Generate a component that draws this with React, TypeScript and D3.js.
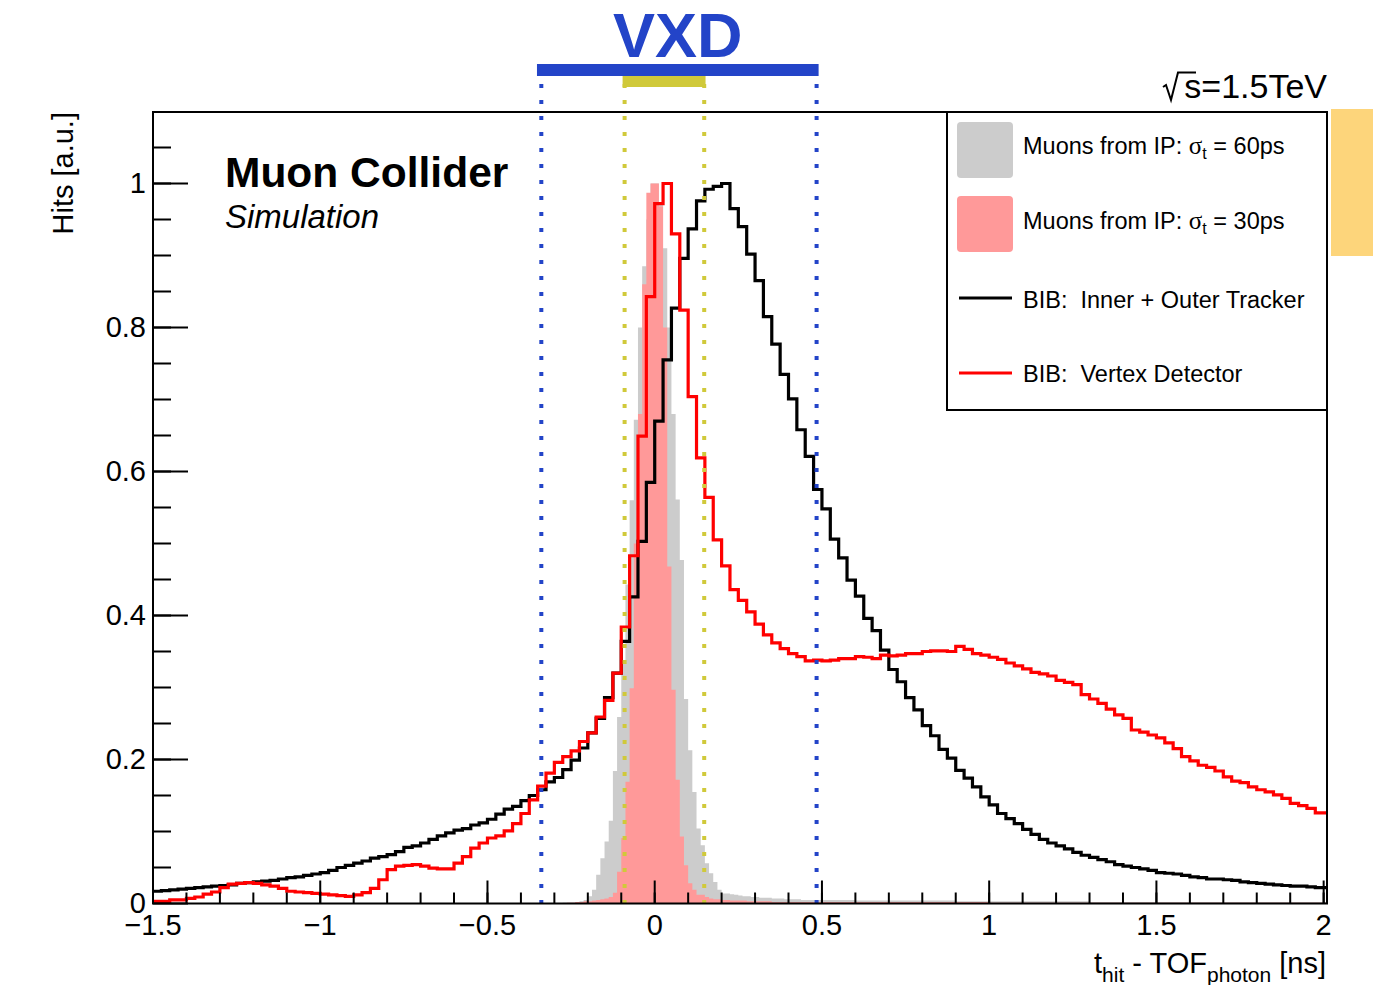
import React from 'react';
import * as d3 from 'd3';

const W = 1373;
const H = 985;

// ---- axis set-up (values) ----
const X_DOMAIN: [number, number] = [-1.5, 2.01];
const Y_DOMAIN: [number, number] = [0, 1.1];
const xMajorTicks = [-1.5, -1, -0.5, 0, 0.5, 1, 1.5, 2];
const xTickLabels = ['\u22121.5', '\u22121', '\u22120.5', '0', '0.5', '1', '1.5', '2'];
const yMajorTicks = [0, 0.2, 0.4, 0.6, 0.8, 1];
const yTickLabels = ['0', '0.2', '0.4', '0.6', '0.8', '1'];

// ---- BIB histograms: 0.025 ns bins starting at -1.5 ns ----
const BIB_START = -1.5;
const BIB_WIDTH = 0.025;
const bibTracker = [
  0.017, 0.018, 0.019, 0.020, 0.021, 0.022, 0.023, 0.024, 0.025, 0.026,
  0.028, 0.029, 0.030, 0.031, 0.032, 0.034, 0.036, 0.037, 0.039, 0.041,
  0.043, 0.046, 0.050, 0.053, 0.056, 0.059, 0.063, 0.065, 0.068, 0.072,
  0.078, 0.080, 0.084, 0.089, 0.094, 0.098, 0.102, 0.104, 0.109, 0.112,
  0.117, 0.124, 0.131, 0.135, 0.143, 0.150, 0.158, 0.169, 0.175, 0.186,
  0.199, 0.216, 0.237, 0.257, 0.286, 0.320, 0.364, 0.426, 0.503, 0.585,
  0.670, 0.755, 0.827, 0.896, 0.937, 0.976, 0.992, 0.996, 1.000, 0.965,
  0.940, 0.902, 0.865, 0.815, 0.777, 0.735, 0.701, 0.658, 0.621, 0.575,
  0.548, 0.506, 0.480, 0.449, 0.427, 0.396, 0.379, 0.352, 0.325, 0.308,
  0.286, 0.269, 0.247, 0.233, 0.214, 0.202, 0.185, 0.174, 0.162, 0.148,
  0.137, 0.125, 0.118, 0.111, 0.103, 0.096, 0.089, 0.084, 0.080, 0.076,
  0.071, 0.067, 0.064, 0.061, 0.058, 0.054, 0.052, 0.050, 0.048, 0.046,
  0.043, 0.042, 0.041, 0.039, 0.037, 0.036, 0.034, 0.034, 0.033, 0.032,
  0.030, 0.029, 0.028, 0.027, 0.026, 0.025, 0.024, 0.024, 0.023, 0.022,
];
const bibVertex = [
  0.003, 0.003, 0.005, 0.005, 0.007, 0.009, 0.013, 0.016, 0.022, 0.027,
  0.028, 0.029, 0.028, 0.026, 0.024, 0.021, 0.017, 0.016, 0.015, 0.014,
  0.013, 0.012, 0.011, 0.010, 0.012, 0.015, 0.021, 0.033, 0.047, 0.052,
  0.053, 0.054, 0.052, 0.049, 0.048, 0.048, 0.056, 0.065, 0.077, 0.084,
  0.091, 0.094, 0.101, 0.111, 0.125, 0.144, 0.163, 0.181, 0.196, 0.204,
  0.212, 0.225, 0.237, 0.259, 0.282, 0.320, 0.384, 0.483, 0.649, 0.843,
  0.972, 1.000, 0.930, 0.824, 0.704, 0.619, 0.564, 0.505, 0.469, 0.436,
  0.421, 0.405, 0.388, 0.373, 0.362, 0.354, 0.347, 0.343, 0.337, 0.338,
  0.337, 0.338, 0.340, 0.340, 0.343, 0.342, 0.340, 0.345, 0.344, 0.345,
  0.347, 0.347, 0.350, 0.351, 0.351, 0.350, 0.357, 0.353, 0.347, 0.345,
  0.342, 0.339, 0.334, 0.330, 0.326, 0.321, 0.319, 0.316, 0.310, 0.307,
  0.304, 0.290, 0.284, 0.278, 0.270, 0.262, 0.257, 0.241, 0.238, 0.234,
  0.230, 0.223, 0.215, 0.204, 0.198, 0.192, 0.189, 0.184, 0.176, 0.170,
  0.168, 0.162, 0.158, 0.155, 0.151, 0.146, 0.139, 0.136, 0.132, 0.126,
];

// ---- Muons from IP: 0.0125 ns bins from -0.3 ns, then 0.1 ns tail bins from 0.5 ns ----
const MU_START = -0.3;
const MU_WIDTH = 0.0125;
const muon60ps = [
  0.000, 0.000, 0.001, 0.001, 0.001, 0.002, 0.003, 0.005, 0.010, 0.019,
  0.040, 0.063, 0.086, 0.115, 0.184, 0.259, 0.335, 0.443, 0.560, 0.672,
  0.800, 0.885, 0.950, 1.000,
  1.000, 0.970, 0.910, 0.800, 0.680, 0.561, 0.477, 0.284, 0.213, 0.155,
  0.104, 0.081, 0.056, 0.042, 0.030, 0.019, 0.014, 0.014, 0.013,
  0.012, 0.011, 0.010, 0.010, 0.009, 0.009, 0.008, 0.008, 0.008, 0.007,
  0.007, 0.007, 0.006, 0.006, 0.006, 0.006, 0.005, 0.005, 0.005, 0.005, 0.005,
];
const muon30ps = [
  0.000, 0.000, 0.000, 0.001, 0.001, 0.002, 0.002, 0.003, 0.003, 0.004,
  0.005, 0.006, 0.007, 0.009, 0.015, 0.044, 0.091, 0.169, 0.299, 0.500,
  0.680, 0.860, 0.987, 1.000,
  1.000, 0.968, 0.800, 0.468, 0.297, 0.172, 0.093, 0.053, 0.028, 0.019,
  0.012, 0.012, 0.009, 0.007, 0.006, 0.006, 0.005, 0.005, 0.004,
  0.004, 0.004, 0.004, 0.003, 0.003, 0.003, 0.003, 0.003, 0.003, 0.002,
  0.002, 0.002, 0.002, 0.002, 0.002, 0.002, 0.002, 0.002, 0.002, 0.002, 0.002,
];
const TAIL_START = 0.5;
const TAIL_WIDTH = 0.1;
const muon60psTail = [0.005, 0.004, 0.004, 0.004, 0.003, 0.003, 0.003, 0.003, 0.002, 0.002, 0.002, 0.002, 0.002, 0.002, 0.002];
const muon30psTail = [0.002, 0.002, 0.002, 0.002, 0.002, 0.001, 0.001, 0.001, 0.001, 0.001, 0.001, 0.001, 0.001, 0.001, 0.001];

// ---- detector acceptance windows (ns) ----
const vxdBar: [number, number] = [-0.352, 0.49];
const innerBar: [number, number] = [-0.096, 0.152];
const blueCuts = [-0.339, 0.484];
const yellowCuts = [-0.09, 0.148];

const BLUE = '#2344c8';
const YELLOW = '#d0c93a';
const FONT = '"Liberation Sans", Arial, Helvetica, sans-serif';

type Bin = { x0: number; x1: number; v: number };

function makeBins(vals: number[], start: number, w: number): Bin[] {
  return vals.map((v, i) => ({ x0: start + i * w, x1: start + (i + 1) * w, v }));
}

export default function App() {
  const x = d3.scaleLinear().domain(X_DOMAIN).range([153, 1327]);
  const y = d3.scaleLinear().domain(Y_DOMAIN).range([903.5, 111.5]);

  const extendLast = (bins: Bin[]) => {
    const b = bins.slice();
    b[b.length - 1] = { ...b[b.length - 1], x1: X_DOMAIN[1] };
    return b;
  };

  const grayBins = extendLast(makeBins(muon60ps, MU_START, MU_WIDTH).concat(makeBins(muon60psTail, TAIL_START, TAIL_WIDTH)));
  const pinkBins = extendLast(makeBins(muon30ps, MU_START, MU_WIDTH).concat(makeBins(muon30psTail, TAIL_START, TAIL_WIDTH)));
  const blackBins = extendLast(makeBins(bibTracker, BIB_START, BIB_WIDTH));
  const redBins = extendLast(makeBins(bibVertex, BIB_START, BIB_WIDTH));

  const areaPath = (bins: Bin[]) => {
    const p = d3.path();
    p.moveTo(x(bins[0].x0), y(0));
    bins.forEach((b) => {
      p.lineTo(x(b.x0), y(b.v));
      p.lineTo(x(b.x1), y(b.v));
    });
    p.lineTo(x(bins[bins.length - 1].x1), y(0));
    p.closePath();
    return p.toString();
  };
  const linePath = (bins: Bin[]) => {
    const p = d3.path();
    p.moveTo(x(bins[0].x0), y(bins[0].v));
    bins.forEach((b) => {
      p.lineTo(x(b.x0), y(b.v));
      p.lineTo(x(b.x1), y(b.v));
    });
    return p.toString();
  };

  const xMinor = d3.range(-15, 21).map((i) => i / 10);
  const yMinor = d3.range(1, 22).map((i) => i * 0.05);

  const x0px = 153;
  const y0px = y(0);

  return (
    <svg width={W} height={H} style={{ position: 'absolute', left: 0, top: 0 }} fontFamily={FONT}>
      <rect x={0} y={0} width={W} height={H} fill="#ffffff" />

      {/* fills */}
      <path d={areaPath(grayBins)} fill="#cccccc" />
      <path d={areaPath(pinkBins)} fill="#ff9999" />

      {/* BIB lines */}
      <path d={linePath(blackBins)} fill="none" stroke="#000000" strokeWidth={3.2} />
      <path d={linePath(redBins)} fill="none" stroke="#ff0000" strokeWidth={3.2} />

      {/* acceptance windows */}
      <rect x={x(innerBar[0])} y={74} width={x(innerBar[1]) - x(innerBar[0])} height={13} fill={YELLOW} />
      <rect x={x(vxdBar[0])} y={64} width={x(vxdBar[1]) - x(vxdBar[0])} height={12} fill={BLUE} />
      <text x={(x(vxdBar[0]) + x(vxdBar[1])) / 2} y={57} textAnchor="middle" fontSize={63} fontWeight="bold" fill={BLUE}>VXD</text>
      {blueCuts.map((c, i) => (
        <line key={'b' + i} x1={x(c)} x2={x(c)} y1={84} y2={904} stroke={BLUE} strokeWidth={4} strokeDasharray="4 12" />
      ))}
      {yellowCuts.map((c, i) => (
        <line key={'y' + i} x1={x(c)} x2={x(c)} y1={84} y2={904} stroke={YELLOW} strokeWidth={4} strokeDasharray="4 12" />
      ))}

      {/* axes ticks */}
      {xMinor.map((t, i) => (
        <line key={'xm' + i} x1={x(t)} x2={x(t)} y1={y0px} y2={y0px - 11} stroke="#000" strokeWidth={2} />
      ))}
      {xMajorTicks.map((t, i) => (
        <line key={'xM' + i} x1={x(t)} x2={x(t)} y1={y0px} y2={y0px - 23} stroke="#000" strokeWidth={2} />
      ))}
      {yMinor.map((t, i) => (
        <line key={'ym' + i} x1={x0px} x2={x0px + 18} y1={y(t)} y2={y(t)} stroke="#000" strokeWidth={2} />
      ))}
      {yMajorTicks.map((t, i) => (
        <line key={'yM' + i} x1={x0px} x2={x0px + 35} y1={y(t)} y2={y(t)} stroke="#000" strokeWidth={2} />
      ))}
      {xMajorTicks.map((t, i) => (
        <text key={'xl' + i} x={x(t)} y={935} textAnchor="middle" fontSize={29} fill="#000">{xTickLabels[i]}</text>
      ))}
      {yMajorTicks.map((t, i) => (
        <text key={'yl' + i} x={146} y={y(t) + 9} textAnchor="end" fontSize={29} fill="#000">{yTickLabels[i]}</text>
      ))}

      {/* frame */}
      <rect x={153} y={112} width={1327 - 153} height={y0px - 112} fill="none" stroke="#000" strokeWidth={2} />

      {/* axis titles */}
      <text transform="translate(73,112) rotate(-90)" textAnchor="end" fontSize={29} fill="#000">Hits [a.u.]</text>
      <text x={1326} y={973} textAnchor="end" fontSize={29} fill="#000">
        <tspan>t</tspan>
        <tspan fontSize={21} dy={9}>hit</tspan>
        <tspan dy={-9}> - TOF</tspan>
        <tspan fontSize={21} dy={9}>photon</tspan>
        <tspan dy={-9}> [ns]</tspan>
      </text>

      {/* labels */}
      <text x={225} y={187} fontSize={42.5} fontWeight="bold" fill="#000">Muon Collider</text>
      <text x={225} y={228} fontSize={33} fontStyle="italic" fill="#000">Simulation</text>

      {/* sqrt(s) */}
      <path d="M1163,87 L1166,85 L1171,100 L1178,72.5 L1196,72.5" fill="none" stroke="#000" strokeWidth={2} />
      <text x={1327} y={98} textAnchor="end" fontSize={34} fill="#000">s=1.5TeV</text>

      {/* legend */}
      <rect x={947} y={112} width={380} height={298} fill="#ffffff" stroke="#000" strokeWidth={2} />
      <rect x={957} y={122} width={56} height={56} rx={4} fill="#cccccc" />
      <rect x={957} y={196} width={56} height={56} rx={4} fill="#ff9999" />
      <line x1={959} x2={1012} y1={298} y2={298} stroke="#000" strokeWidth={3} />
      <line x1={959} x2={1012} y1={373} y2={373} stroke="#ff0000" strokeWidth={3} />
      <text x={1023} y={154} fontSize={23.5} fill="#000">
        <tspan>Muons from IP: </tspan>
        <tspan fontFamily='"Liberation Serif", "DejaVu Serif", serif' fontSize={25}>σ</tspan>
        <tspan fontSize={16} dy={5}>t</tspan>
        <tspan dy={-5}> = 60ps</tspan>
      </text>
      <text x={1023} y={229} fontSize={23.5} fill="#000">
        <tspan>Muons from IP: </tspan>
        <tspan fontFamily='"Liberation Serif", "DejaVu Serif", serif' fontSize={25}>σ</tspan>
        <tspan fontSize={16} dy={5}>t</tspan>
        <tspan dy={-5}> = 30ps</tspan>
      </text>
      <text x={1023} y={308} fontSize={23.5} fill="#000" style={{ whiteSpace: 'pre' }}>{'BIB:  Inner + Outer Tracker'}</text>
      <text x={1023} y={382} fontSize={23.5} fill="#000" style={{ whiteSpace: 'pre' }}>{'BIB:  Vertex Detector'}</text>

      {/* side tab */}
      <rect x={1331} y={109} width={42} height={147} fill="#fdd57b" />
    </svg>
  );
}
